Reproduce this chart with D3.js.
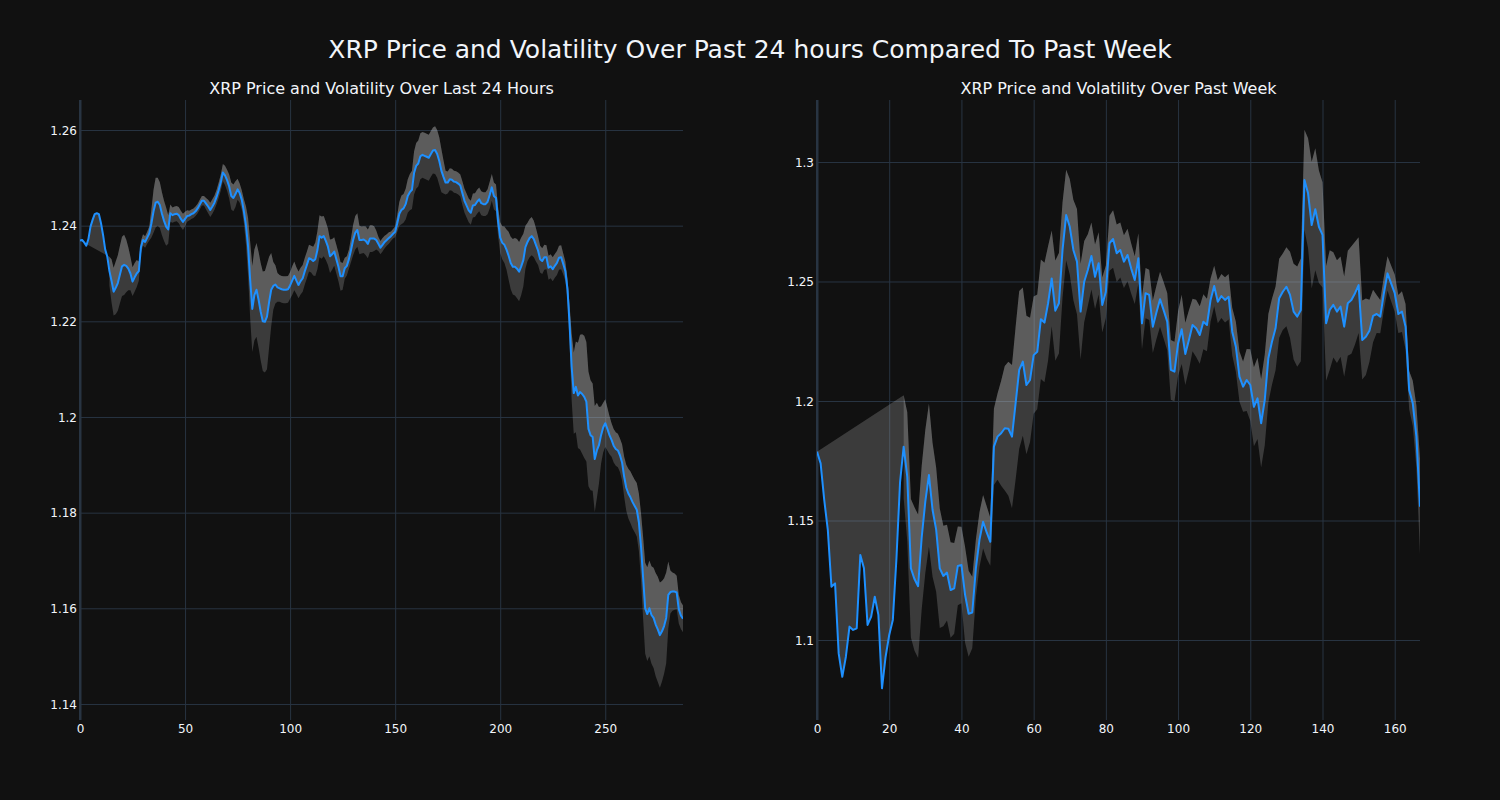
<!DOCTYPE html>
<html>
<head>
<meta charset="utf-8">
<script src="https://cdn.jsdelivr.net/npm/d3@7"></script>
<style>
html,body{margin:0;padding:0;background:#111111;}
svg{display:block;}
</style>
</head>
<body>
<div id="chart"></div>
<script>
// ---------- DATA ----------
const chartTitle = "XRP Price and Volatility Over Past 24 hours Compared To Past Week";
const dayTitle = "XRP Price and Volatility Over Last 24 Hours";
const weekTitle = "XRP Price and Volatility Over Past Week";

// 5-minute prices, last 24 hours (index 0..287)
const dayPrice = [
1.2369,1.2370,1.2365,1.2358,1.2372,1.2398,1.2412,1.2424,1.2426,1.2424,
1.2405,1.2380,1.2350,1.2335,1.2305,1.2285,1.2262,1.2270,1.2280,1.2298,
1.2315,1.2318,1.2316,1.2310,1.2300,1.2283,1.2292,1.2300,1.2305,1.2355,
1.2370,1.2366,1.2375,1.2384,1.2405,1.2430,1.2448,1.2450,1.2443,1.2425,
1.2410,1.2398,1.2392,1.2426,1.2422,1.2424,1.2425,1.2422,1.2414,1.2408,
1.2414,1.2420,1.2421,1.2424,1.2426,1.2430,1.2436,1.2444,1.2452,1.2452,
1.2446,1.2440,1.2433,1.2440,1.2448,1.2460,1.2474,1.2490,1.2511,1.2505,
1.2495,1.2482,1.2462,1.2458,1.2466,1.2476,1.2468,1.2454,1.2430,1.2400,
1.2356,1.2286,1.2226,1.2255,1.2266,1.2245,1.2220,1.2200,1.2199,1.2210,
1.2240,1.2266,1.2274,1.2277,1.2271,1.2269,1.2267,1.2266,1.2266,1.2267,
1.2275,1.2285,1.2295,1.2285,1.2276,1.2284,1.2290,1.2305,1.2318,1.2332,
1.2330,1.2326,1.2330,1.2349,1.2378,1.2375,1.2378,1.2368,1.2356,1.2336,
1.2340,1.2346,1.2330,1.2314,1.2294,1.2294,1.2311,1.2316,1.2330,1.2349,
1.2370,1.2385,1.2391,1.2370,1.2370,1.2371,1.2368,1.2362,1.2373,1.2373,
1.2373,1.2370,1.2362,1.2354,1.2360,1.2366,1.2370,1.2374,1.2378,1.2383,
1.2387,1.2405,1.2425,1.2433,1.2436,1.2445,1.2462,1.2470,1.2475,1.2510,
1.2525,1.2530,1.2545,1.2548,1.2546,1.2544,1.2542,1.2550,1.2557,1.2558,
1.2550,1.2535,1.2515,1.2502,1.2490,1.2490,1.2497,1.2496,1.2492,1.2491,
1.2488,1.2484,1.2468,1.2452,1.2442,1.2432,1.2427,1.2442,1.2443,1.2450,
1.2455,1.2447,1.2445,1.2445,1.2450,1.2464,1.2480,1.2462,1.2458,1.2408,
1.2375,1.2364,1.2360,1.2350,1.2337,1.2322,1.2314,1.2314,1.2310,1.2304,
1.2315,1.2328,1.2355,1.2366,1.2374,1.2378,1.2372,1.2360,1.2348,1.2330,
1.2326,1.2334,1.2334,1.2312,1.2315,1.2309,1.2316,1.2322,1.2333,1.2334,
1.2320,1.2305,1.2268,1.2195,1.2105,1.2050,1.2063,1.2045,1.2052,1.2048,
1.2042,1.2032,1.1975,1.1962,1.1958,1.1912,1.1930,1.1941,1.1962,1.1978,
1.1987,1.1975,1.1962,1.1952,1.1940,1.1933,1.1930,1.1920,1.1905,1.1875,
1.1852,1.1840,1.1832,1.1822,1.1814,1.1806,1.1780,1.1730,1.1665,1.1600,
1.1588,1.1600,1.1586,1.1580,1.1566,1.1556,1.1544,1.1552,1.1563,1.1580,
1.1628,1.1634,1.1635,1.1635,1.1633,1.1598,1.1585,1.1578
];

// rolling volatility (half band width), null while the window fills
const dayVol = [
null,null,null,null,null,null,null,null,null,null,
null,null,null,null,0.0030,0.0045,0.0050,0.0055,0.0058,0.0060,
0.0062,0.0063,0.0055,0.0045,0.0035,0.0030,0.0030,0.0028,0.0020,0.0013,
0.0012,0.0012,0.0013,0.0015,0.0030,0.0045,0.0052,0.0050,0.0048,0.0045,
0.0042,0.0040,0.0030,0.0018,0.0016,0.0016,0.0016,0.0017,0.0017,0.0017,
0.0015,0.0012,0.0010,0.0010,0.0010,0.0010,0.0010,0.0010,0.0010,0.0010,
0.0012,0.0014,0.0015,0.0015,0.0015,0.0015,0.0016,0.0017,0.0018,0.0020,
0.0022,0.0025,0.0028,0.0028,0.0027,0.0022,0.0020,0.0020,0.0025,0.0040,
0.0060,0.0080,0.0090,0.0095,0.0098,0.0100,0.0102,0.0104,0.0106,0.0110,
0.0095,0.0077,0.0050,0.0040,0.0030,0.0028,0.0028,0.0028,0.0028,0.0028,
0.0028,0.0030,0.0030,0.0028,0.0028,0.0028,0.0028,0.0028,0.0028,0.0028,
0.0028,0.0030,0.0035,0.0040,0.0044,0.0044,0.0042,0.0040,0.0038,0.0035,
0.0032,0.0030,0.0030,0.0030,0.0030,0.0028,0.0022,0.0020,0.0020,0.0025,
0.0032,0.0035,0.0035,0.0030,0.0028,0.0028,0.0030,0.0030,0.0028,0.0028,
0.0026,0.0020,0.0015,0.0014,0.0014,0.0013,0.0012,0.0012,0.0010,0.0010,
0.0011,0.0018,0.0025,0.0030,0.0030,0.0032,0.0035,0.0038,0.0040,0.0045,
0.0048,0.0048,0.0048,0.0048,0.0048,0.0048,0.0048,0.0048,0.0048,0.0050,
0.0050,0.0050,0.0045,0.0035,0.0025,0.0023,0.0023,0.0023,0.0023,0.0023,
0.0023,0.0023,0.0025,0.0025,0.0025,0.0025,0.0025,0.0025,0.0025,0.0025,
0.0025,0.0025,0.0025,0.0025,0.0026,0.0028,0.0028,0.0028,0.0028,0.0030,
0.0032,0.0035,0.0038,0.0042,0.0050,0.0055,0.0058,0.0060,0.0062,0.0062,
0.0060,0.0055,0.0045,0.0040,0.0040,0.0040,0.0038,0.0035,0.0030,0.0028,
0.0027,0.0026,0.0025,0.0025,0.0025,0.0025,0.0025,0.0025,0.0025,0.0025,
0.0022,0.0020,0.0022,0.0040,0.0070,0.0085,0.0095,0.0110,0.0120,0.0125,
0.0128,0.0125,0.0120,0.0115,0.0112,0.0111,0.0100,0.0080,0.0060,0.0052,
0.0050,0.0045,0.0040,0.0035,0.0035,0.0035,0.0035,0.0035,0.0038,0.0042,
0.0048,0.0052,0.0054,0.0055,0.0055,0.0056,0.0060,0.0070,0.0085,0.0095,
0.0098,0.0100,0.0102,0.0105,0.0108,0.0110,0.0110,0.0105,0.0100,0.0095,
0.0070,0.0045,0.0040,0.0038,0.0035,0.0030,0.0028,0.0028
];

// hourly prices, past week (index 0..167)
const weekPrice = [
1.1788,1.1739,1.1586,1.1460,1.1223,1.1237,1.0944,1.0846,1.0930,1.1056,
1.1042,1.1049,1.1356,1.1300,1.1063,1.1098,1.1181,1.1105,1.0798,1.0930,
1.1021,1.1084,1.1340,1.1660,1.1809,1.1683,1.1300,1.1255,1.1225,1.1430,
1.1580,1.1690,1.1545,1.1462,1.1300,1.1268,1.1282,1.1209,1.1216,1.1310,
1.1314,1.1190,1.1110,1.1115,1.1300,1.1420,1.1495,1.1450,1.1411,1.1809,
1.1851,1.1865,1.1886,1.1884,1.1851,1.1990,1.2130,1.2165,1.2067,1.2088,
1.2192,1.2206,1.2342,1.2328,1.2409,1.2513,1.2378,1.2409,1.2632,1.2778,
1.2729,1.2632,1.2583,1.2374,1.2499,1.2548,1.2607,1.2520,1.2576,1.2402,
1.2457,1.2660,1.2678,1.2618,1.2632,1.2583,1.2611,1.2555,1.2506,1.2597,
1.2325,1.2451,1.2444,1.2311,1.2370,1.2426,1.2380,1.2332,1.2130,1.2123,
1.2241,1.2300,1.2197,1.2255,1.2318,1.2304,1.2276,1.2332,1.2318,1.2423,
1.2481,1.2415,1.2439,1.2423,1.2436,1.2290,1.2227,1.2102,1.2060,1.2088,
1.2067,1.1976,1.2011,1.1907,1.2004,1.2179,1.2248,1.2304,1.2430,1.2457,
1.2478,1.2444,1.2374,1.2353,1.2381,1.2925,1.2869,1.2736,1.2802,1.2729,
1.2695,1.2325,1.2381,1.2402,1.2374,1.2395,1.2311,1.2409,1.2423,1.2451,
1.2485,1.2255,1.2269,1.2294,1.2356,1.2364,1.2353,1.2451,1.2534,1.2492,
1.2451,1.2364,1.2374,1.2311,1.2046,1.1990,1.1851,1.1558
];

const weekVol = [
null,null,null,null,null,null,null,null,null,null,
null,null,null,null,null,null,null,null,null,null,
null,null,null,null,0.0215,0.0270,0.0290,0.0300,0.0300,0.0300,
0.0300,0.0300,0.0280,0.0260,0.0250,0.0210,0.0200,0.0200,0.0190,0.0165,
0.0160,0.0200,0.0180,0.0150,0.0120,0.0115,0.0112,0.0110,0.0100,0.0160,
0.0180,0.0220,0.0260,0.0280,0.0300,0.0320,0.0330,0.0310,0.0290,0.0260,
0.0245,0.0240,0.0250,0.0250,0.0240,0.0200,0.0210,0.0210,0.0200,0.0190,
0.0200,0.0210,0.0220,0.0200,0.0170,0.0150,0.0140,0.0135,0.0130,0.0115,
0.0110,0.0115,0.0120,0.0120,0.0115,0.0110,0.0110,0.0105,0.0100,0.0105,
0.0110,0.0105,0.0105,0.0110,0.0112,0.0115,0.0118,0.0120,0.0125,0.0125,
0.0135,0.0145,0.0130,0.0125,0.0110,0.0120,0.0120,0.0115,0.0110,0.0090,
0.0085,0.0090,0.0092,0.0095,0.0095,0.0100,0.0105,0.0105,0.0105,0.0130,
0.0150,0.0165,0.0170,0.0185,0.0190,0.0185,0.0180,0.0175,0.0165,0.0160,
0.0165,0.0180,0.0200,0.0210,0.0215,0.0210,0.0230,0.0265,0.0255,0.0235,
0.0220,0.0240,0.0250,0.0220,0.0215,0.0210,0.0210,0.0220,0.0225,0.0215,
0.0200,0.0165,0.0160,0.0130,0.0110,0.0080,0.0070,0.0070,0.0072,0.0075,
0.0078,0.0080,0.0085,0.0095,0.0080,0.0095,0.0130,0.0200
];

const dayXTicks = [0, 50, 100, 150, 200, 250];
const dayYTicks = [1.14, 1.16, 1.18, 1.2, 1.22, 1.24, 1.26];
const weekXTicks = [0, 20, 40, 60, 80, 100, 120, 140, 160];
const weekYTicks = [1.1, 1.15, 1.2, 1.25, 1.3];

// ---------- STYLE / LAYOUT ----------
const W = 1500, H = 800;
const BG = "#111111", GRID = "#283442", TXT = "#f2f5fa";
const LINE = "#1e90ff", FILL = "rgba(211,211,211,0.22)";
const FONT = "'DejaVu Sans', sans-serif";
const plotTop = 100, plotBottom = 720;

const svg = d3.select("#chart").append("svg")
  .attr("width", W).attr("height", H)
  .style("background", BG);

svg.append("rect").attr("width", W).attr("height", H).attr("fill", BG);

svg.append("text")
  .attr("x", 750).attr("y", 58)
  .attr("text-anchor", "middle")
  .attr("fill", TXT).attr("font-family", FONT).attr("font-size", 25)
  .text(chartTitle);

function panel(opt) {
  const x = d3.scaleLinear().domain(opt.xDomain).range([opt.left, opt.right]);
  const y = d3.scaleLinear().domain(opt.yDomain).range([plotBottom, plotTop]);
  const g = svg.append("g");

  // grid + ticks
  const gx = g.append("g").attr("transform", `translate(0,${plotBottom})`)
    .call(d3.axisBottom(x).tickValues(opt.xTicks).tickSize(-(plotBottom - plotTop)).tickFormat(d3.format("d")));
  gx.select(".domain").remove();
  gx.selectAll(".tick line").attr("stroke", GRID).attr("stroke-width", d => d === 0 ? 2 : 1);
  gx.selectAll(".tick text").attr("fill", TXT).attr("font-family", FONT).attr("font-size", 12)
    .attr("dy", null).attr("y", 13);

  const gy = g.append("g").attr("transform", `translate(${opt.left},0)`)
    .call(d3.axisLeft(y).tickValues(opt.yTicks).tickSize(-(opt.right - opt.left)).tickFormat(d => String(+d.toFixed(3))));
  gy.select(".domain").remove();
  gy.selectAll(".tick line").attr("stroke", GRID).attr("stroke-width", 1);
  gy.selectAll(".tick text").attr("fill", TXT).attr("font-family", FONT).attr("font-size", 12)
    .attr("x", -3).attr("dy", "0.35em");

  // zero line at x = 0
  g.append("line").attr("x1", x(0)).attr("x2", x(0)).attr("y1", plotTop).attr("y2", plotBottom)
    .attr("stroke", GRID).attr("stroke-width", 2);

  // subplot title
  g.append("text")
    .attr("x", (opt.left + opt.right) / 2).attr("y", 94)
    .attr("text-anchor", "middle")
    .attr("fill", TXT).attr("font-family", FONT).attr("font-size", 16)
    .text(opt.title);

  const price = opt.price, vol = opt.vol;
  const rows = price.map((p, i) => ({ i, p, v: vol[i] }));
  const valid = rows.filter(d => d.v !== null);

  const clipId = "clip" + opt.id;
  svg.append("clipPath").attr("id", clipId).append("rect")
    .attr("x", opt.left).attr("y", plotTop).attr("width", opt.right - opt.left).attr("height", plotBottom - plotTop);
  const plot = g.append("g").attr("clip-path", `url(#${clipId})`);

  // fill 1: upper band to price line (closing edge runs from first price to first band point)
  const poly = valid.map(d => [d.i, d.p + d.v]).concat(rows.slice().reverse().map(d => [d.i, d.p]));
  const lineGen = d3.line().x(d => x(d[0])).y(d => y(d[1]));
  plot.append("path").attr("d", lineGen(poly) + "Z").attr("fill", FILL).attr("stroke", "none");

  // fill 2: lower band to upper band
  const area = d3.area().x(d => x(d.i)).y0(d => y(d.p - d.v)).y1(d => y(d.p + d.v));
  plot.append("path").attr("d", area(valid)).attr("fill", FILL).attr("stroke", "none");

  // price line
  const pl = d3.line().x(d => x(d.i)).y(d => y(d.p));
  plot.append("path").attr("d", pl(rows)).attr("fill", "none")
    .attr("stroke", LINE).attr("stroke-width", 2).attr("stroke-linejoin", "round");
}

panel({
  id: "day", title: dayTitle, left: 80, right: 683,
  xDomain: [0, dayPrice.length - 1], yDomain: [1.13665, 1.26627],
  xTicks: dayXTicks, yTicks: dayYTicks, price: dayPrice, vol: dayVol
});
panel({
  id: "week", title: weekTitle, left: 817, right: 1420,
  xDomain: [0, weekPrice.length - 1], yDomain: [1.06653, 1.32594],
  xTicks: weekXTicks, yTicks: weekYTicks, price: weekPrice, vol: weekVol
});
</script>
</body>
</html>
